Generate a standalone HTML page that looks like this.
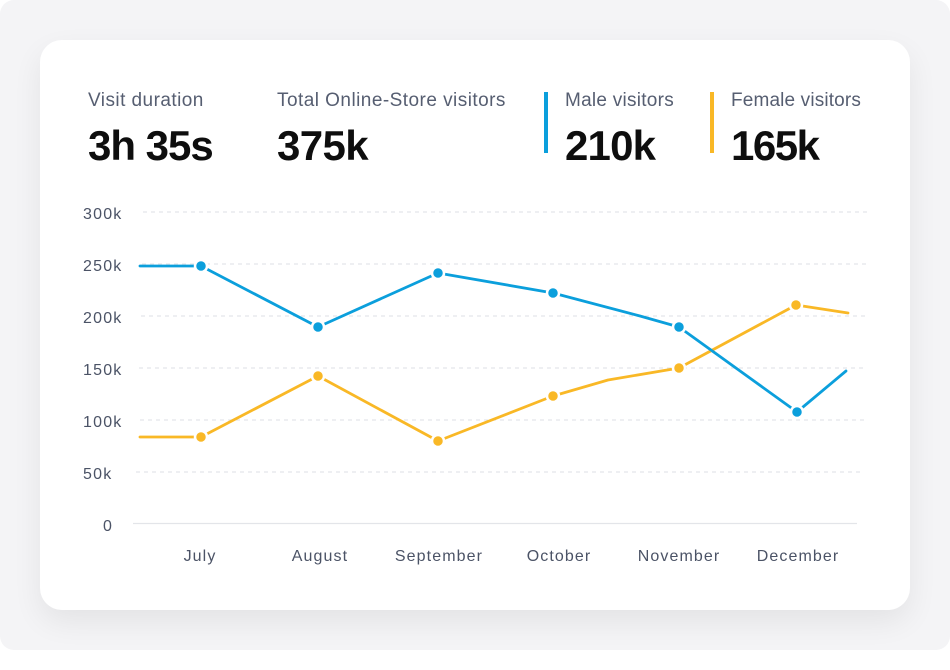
<!DOCTYPE html>
<html>
<head>
<meta charset="utf-8">
<style>
  html,body{margin:0;padding:0;background:#ffffff;}
  body{width:950px;height:670px;position:relative;overflow:hidden;font-family:"Liberation Sans",sans-serif;}
  .outer{position:absolute;left:0;top:0;width:950px;height:650px;background:#f4f4f6;border-radius:14px;}
  .card{position:absolute;left:40px;top:40px;width:870px;height:570px;background:#ffffff;border-radius:22px;box-shadow:0 12px 30px rgba(0,0,0,0.07);}
  svg{position:absolute;left:0;top:0;}
</style>
</head>
<body>
<div class="outer"></div>
<div class="card"></div>
<svg width="950" height="670" viewBox="0 0 950 670" xmlns="http://www.w3.org/2000/svg">
  <g font-family="Liberation Sans, sans-serif">
    <!-- header labels -->
    <text x="88" y="106" font-size="19" fill="#565e71" letter-spacing="0.45">Visit duration</text>
    <text x="277" y="106" font-size="19" fill="#565e71" letter-spacing="0.46">Total Online-Store visitors</text>
    <text x="565" y="106" font-size="19" fill="#565e71" letter-spacing="0.26">Male visitors</text>
    <text x="731" y="106" font-size="19" fill="#565e71" letter-spacing="0.15">Female visitors</text>
    <!-- big numbers -->
    <text x="88" y="160" font-size="42" font-weight="bold" fill="#0e0e0e" letter-spacing="-1">3h 35s</text>
    <text x="277" y="160" font-size="42" font-weight="bold" fill="#0e0e0e" letter-spacing="-0.6">375k</text>
    <text x="565" y="160" font-size="42" font-weight="bold" fill="#0e0e0e" letter-spacing="-0.8">210k</text>
    <text x="731" y="160" font-size="42" font-weight="bold" fill="#0e0e0e" letter-spacing="-1.5">165k</text>
    <!-- color bars -->
    <rect x="544" y="92" width="4" height="61" fill="#0b9fdc"/>
    <rect x="710" y="92" width="4" height="61" fill="#f9b826"/>

    <!-- grid lines -->
    <g stroke="#e3e5e9" stroke-width="1.3" stroke-dasharray="4 4">
      <line x1="143" y1="212" x2="869" y2="212"/>
      <line x1="142" y1="264" x2="869" y2="264"/>
      <line x1="141" y1="316" x2="868" y2="316"/>
      <line x1="139" y1="368" x2="867" y2="368"/>
      <line x1="140" y1="420" x2="865" y2="420"/>
      <line x1="136" y1="472" x2="860" y2="472"/>
    </g>
    <line x1="133" y1="523.5" x2="857" y2="523.5" stroke="#e3e5e9" stroke-width="1.3"/>

    <!-- y labels -->
    <g font-size="16" fill="#4b5366" letter-spacing="1.2">
      <text x="83" y="219">300k</text>
      <text x="83" y="271">250k</text>
      <text x="83" y="323">200k</text>
      <text x="83" y="375">150k</text>
      <text x="83" y="427">100k</text>
      <text x="83" y="479">50k</text>
      <text x="103" y="531">0</text>
    </g>

    <!-- x labels -->
    <g font-size="16" fill="#4b5366" letter-spacing="1.1" text-anchor="middle">
      <text x="200" y="561">July</text>
      <text x="320" y="561">August</text>
      <text x="439" y="561">September</text>
      <text x="559" y="561">October</text>
      <text x="679" y="561">November</text>
      <text x="798" y="561">December</text>
    </g>

    <!-- series lines -->
    <polyline fill="none" stroke="#f9b826" stroke-width="2.8" stroke-linejoin="round" stroke-linecap="round"
      points="140,437 201,437 318,376 438,441 553,396 608,380 679,368 796,305 848,313"/>
    <polyline fill="none" stroke="#0b9fdc" stroke-width="2.8" stroke-linejoin="round" stroke-linecap="round"
      points="140,266 201,266 318,327 438,273 553,293 640,316 679,327 797,412 846,371"/>

    <!-- markers -->
    <g fill="#f9b826" stroke="#ffffff" stroke-width="2.5">
      <circle cx="201" cy="437" r="6"/>
      <circle cx="318" cy="376" r="6"/>
      <circle cx="438" cy="441" r="6"/>
      <circle cx="553" cy="396" r="6"/>
      <circle cx="679" cy="368" r="6"/>
      <circle cx="796" cy="305" r="6"/>
    </g>
    <g fill="#0b9fdc" stroke="#ffffff" stroke-width="2.5">
      <circle cx="201" cy="266" r="6"/>
      <circle cx="318" cy="327" r="6"/>
      <circle cx="438" cy="273" r="6"/>
      <circle cx="553" cy="293" r="6"/>
      <circle cx="679" cy="327" r="6"/>
      <circle cx="797" cy="412" r="6"/>
    </g>
  </g>
</svg>
</body>
</html>
